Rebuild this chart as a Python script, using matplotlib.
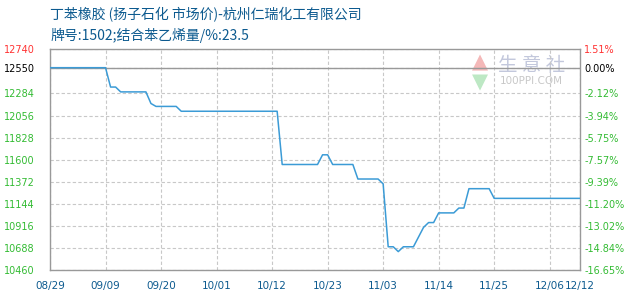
import matplotlib
matplotlib.use("Agg")
import matplotlib.pyplot as plt
import pandas as pd

plt.rcParams['font.family'] = ['Noto Sans CJK SC', 'DejaVu Sans']

# ---- data ----
dates = ["08-29", "09-09", "09-10", "09-11", "09-12", "09-17", "09-18", "09-19",
         "09-23", "09-24", "10-13", "10-14", "10-21", "10-22", "10-23", "10-24",
         "10-28", "10-29", "11-02", "11-03", "11-04", "11-05", "11-06", "11-07",
         "11-09", "11-11", "11-12", "11-13", "11-14", "11-17", "11-18", "11-19",
         "11-20", "11-24", "11-25", "12-12"]
prices = [12550, 12550, 12350, 12350, 12300, 12300, 12180, 12150,
          12150, 12100, 12100, 11550, 11550, 11650, 11650, 11550,
          11550, 11400, 11400, 11350, 10700, 10700, 10650, 10700,
          10700, 10900, 10950, 10950, 11050, 11050, 11100, 11100,
          11300, 11300, 11200, 11200]
base_price = 12550
y_ticks = [10460, 10688, 10916, 11144, 11372, 11600, 11828, 12056, 12284, 12550, 12740]
x_tick_dates = ["08-29", "09-09", "09-20", "10-01", "10-12", "10-23", "11-03",
                "11-14", "11-25", "12-06", "12-12"]
title_line1 = "丁苯橡胶 (扬子石化 市场价)-杭州仁瑞化工有限公司"
title_line2 = "牌号:1502;结合苯乙烯量/%:23.5"

x = pd.to_datetime(["2024-" + d for d in dates])
xt = pd.to_datetime(["2024-" + d for d in x_tick_dates])

fig = plt.figure(figsize=(6.3, 3.0), dpi=100)
ax = fig.add_axes([50/630, 30/300, 530/630, 220.7/300])

green = "#33bb33"
red = "#ff3333"
blue_txt = "#0c5a8f"
gridc = "#c8c8c8"
borderc = "#999999"

ax.plot(x, prices, color="#3b9bd6", lw=1.1, zorder=3)
ax.set_xlim(x[0], x[-1])
ax.set_ylim(y_ticks[0], y_ticks[-1])

ax.set_yticks(y_ticks)
ax.set_yticklabels([str(v) for v in y_ticks], fontsize=7, family=['DejaVu Sans'])
for lab, v in zip(ax.get_yticklabels(), y_ticks):
    lab.set_color(red if v > base_price else ("black" if v == base_price else green))
ax.tick_params(axis='y', length=0, pad=11)

ax.set_xticks(xt)
ax.set_xticklabels([d.replace("-", "/") for d in x_tick_dates], fontsize=7.5,
                   color=blue_txt, family=['DejaVu Sans'])
ax.tick_params(axis='x', length=0, pad=8)

ax.grid(True, color=gridc, ls=(0, (3, 2)), lw=0.8, zorder=1)
ax.axhline(base_price, color=borderc, lw=1.0, zorder=2)
for s in ax.spines.values():
    s.set_color(borderc)
    s.set_linewidth(1.0)

ax2 = ax.twinx()
ax2.set_ylim(ax.get_ylim())
ax2.set_yticks(y_ticks)
pct = [(v / base_price - 1) * 100 for v in y_ticks]
ax2.set_yticklabels(["%.2f%%" % p for p in pct], fontsize=7, family=['DejaVu Sans'])
for lab, v in zip(ax2.get_yticklabels(), y_ticks):
    lab.set_color(red if v > base_price else ("black" if v == base_price else green))
ax2.tick_params(axis='y', length=0, pad=3)
for s in ax2.spines.values():
    s.set_visible(False)

# titles
fig.text(50/630, 1 - 15/300, title_line1, fontsize=10, color=blue_txt, va='center', ha='left')
fig.text(50/630, 1 - 35/300, title_line2, fontsize=10, color=blue_txt, va='center', ha='left')

# watermark
ax.text(0.812, 0.94, "▲", transform=ax.transAxes, fontsize=15, color="#f4b8b8",
        ha='center', va='center', family=['DejaVu Sans'], zorder=0)
ax.text(0.812, 0.85, "▼", transform=ax.transAxes, fontsize=15, color="#bde8c4",
        ha='center', va='center', family=['DejaVu Sans'], zorder=0)
ax.text(0.909, 0.925, "生 意 社", transform=ax.transAxes, fontsize=14, color="#c3c8dc",
        ha='center', va='center', zorder=0)
ax.text(0.909, 0.858, "100PPI.COM", transform=ax.transAxes, fontsize=7.5, color="#c8c8c8",
        ha='center', va='center', family=['DejaVu Sans'], zorder=0)

fig.savefig("out.png", dpi=100)
